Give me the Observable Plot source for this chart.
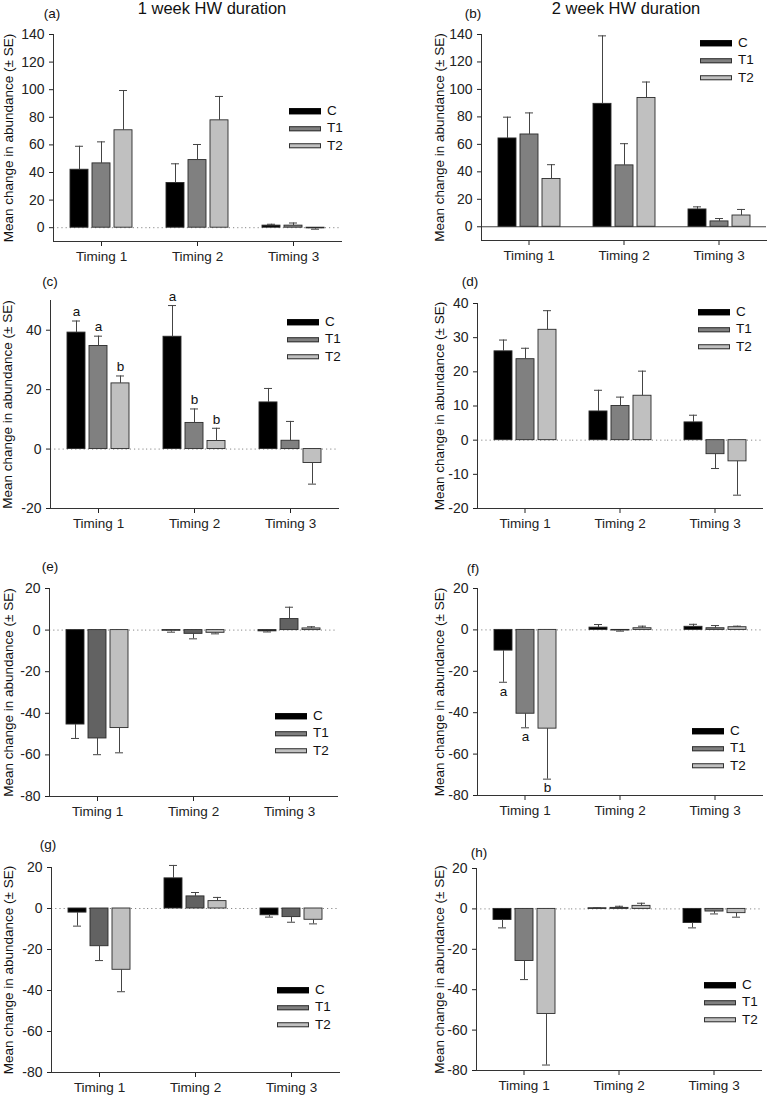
<!DOCTYPE html>
<html><head><meta charset="utf-8">
<script src="https://cdn.jsdelivr.net/npm/d3@7"></script>
<script src="https://cdn.jsdelivr.net/npm/@observablehq/plot@0.6"></script>
<style>
body{margin:0;background:#fff;}
#chart{position:relative;width:767px;height:1097px;font-family:"Liberation Sans",Arial,sans-serif;color:#111;overflow:hidden;background:#fff;}
.abs{position:absolute;white-space:nowrap;line-height:1;}
.ctr{transform:translate(-50%,-50%);}
.row{position:absolute;display:flex;align-items:center;font-size:13.5px;transform:translateY(-50%);line-height:1;}
.sw{width:30px;height:3px;border:1px solid #333;margin-right:6px;}
svg.panel{position:absolute;overflow:visible;}
</style></head>
<body><div id="chart"></div>
<script>
// ---- categories & labels ----
const timings = ["Timing 1", "Timing 2", "Timing 3"];
const treatments = ["C", "T1", "T2"];
const yLabel = "Mean change in abundance (± SE)";
const columnTitles = ["1 week HW duration", "2 week HW duration"];
const panelTags = ["(a)", "(b)", "(c)", "(d)", "(e)", "(f)", "(g)", "(h)"];

// ---- values: rows = C, T1, T2 ; columns = Timing 1..3 ----
const meanA = [[42.0, 32.4, 1.5], [46.6, 49.0, 1.5], [70.6, 77.8, -0.5]];
const seA   = [[17.0, 13.9, 1.0], [15.6, 11.3, 1.9], [28.8, 17.3, 0.6]];

const meanB = [[64.3, 89.5, 12.6], [67.2, 44.7, 3.9], [34.8, 93.8, 8.2]];
const seB   = [[15.5, 49.5, 1.9], [15.7, 15.8, 2.1], [10.4, 11.6, 4.4]];

const meanC = [[39.2, 37.8, 15.7], [34.7, 8.8, 2.8], [22.1, 2.7, -4.7]];
const seC   = [[3.9, 10.5, 4.7], [3.3, 4.7, 6.5], [2.5, 4.3, 7.1]];
const lettersC = [["a", "a", ""], ["a", "b", ""], ["b", "b", ""]];

const meanD = [[26.0, 8.4, 5.2], [23.7, 10.0, -4.1], [32.3, 13.0, -6.2]];
const seD   = [[3.3, 6.2, 2.1], [3.2, 2.6, 4.2], [5.6, 7.2, 9.9]];

const meanE = [[-45.4, -0.3, -0.6], [-52.1, -1.8, 5.3], [-47.1, -1.3, 0.8]];
const seE   = [[6.7, 0.7, 0.3], [7.8, 2.4, 5.7], [11.9, 0.5, 0.8]];

const meanF = [[-10.0, 1.1, 1.5], [-40.5, -0.3, 0.8], [-47.7, 0.8, 1.3]];
const seF   = [[15.3, 1.5, 1.2], [6.8, 0.3, 1.3], [24.4, 1.0, 0.5]];
const lettersF = [["a", "", ""], ["a", "", ""], ["b", "", ""]];

const meanG = [[-2.0, 14.7, -3.3], [-18.4, 5.9, -4.2], [-29.9, 3.6, -5.5]];
const seG   = [[6.6, 6.3, 0.9], [7.0, 1.9, 2.5], [10.7, 1.8, 2.0]];

const meanH = [[-5.5, 0.3, -7.0], [-25.8, 0.5, -1.3], [-52.0, 1.5, -2.1]];
const seH   = [[3.9, 0.3, 2.4], [9.2, 0.8, 1.2], [25.3, 1.3, 2.0]];

const ticksAB = [0, 20, 40, 60, 80, 100, 120, 140];
const ticksC = [-20, 0, 20, 40];
const ticksD = [-20, -10, 0, 10, 20, 30, 40];
const ticksEH = [-80, -60, -40, -20, 0, 20];

// ---- layout ----
const colLeft = [0, 383], colWidth = [383, 384], labelX = [7, 55];
const panels = [
  {mean: meanA, se: seA, col: 0, top: 0,   h: 270, mL: 52, mR: 41, mT: 34, mB: 29, y: [-10, 140], ticks: ticksAB, t1: "#808080", zero: "dot",   tag: [52, 14],  legend: [289, 111]},
  {mean: meanB, se: seB, col: 1, top: 0,   h: 270, mL: 97, mR: 0,  mT: 34, mB: 30, y: [-10, 140], ticks: ticksAB, t1: "#808080", zero: "solid", tag: [473, 14], legend: [700, 43]},
  {mean: meanC, se: seC, letters: lettersC, col: 0, top: 270, h: 270, mL: 50, mR: 45, mT: 30, mB: 32, y: [-20, 50], ticks: ticksC, t1: "#808080", zero: "dot", tag: [50, 282], legend: [287, 322]},
  {mean: meanD, se: seD, col: 1, top: 270, h: 270, mL: 93, mR: 5,  mT: 33, mB: 32, y: [-20, 40], ticks: ticksD, t1: "#808080", zero: "dot", tag: [470, 282], legend: [698, 312]},
  {mean: meanE, se: seE, col: 0, top: 540, h: 280, mL: 48, mR: 45, mT: 48, mB: 24, y: [-80, 20], ticks: ticksEH, t1: "#626262", zero: "dot", tag: [50, 567], legend: [275, 716]},
  {mean: meanF, se: seF, letters: lettersF, col: 1, top: 540, h: 280, mL: 93, mR: 4, mT: 48, mB: 25, y: [-80, 20], ticks: ticksEH, t1: "#808080", zero: "dot", tag: [473, 569], legend: [692, 731]},
  {mean: meanG, se: seG, col: 0, top: 820, h: 277, mL: 50, mR: 44, mT: 47, mB: 25, y: [-80, 20], ticks: ticksEH, t1: "#626262", zero: "dot", tag: [48, 845], legend: [277, 990]},
  {mean: meanH, se: seH, col: 1, top: 820, h: 277, mL: 92, mR: 5,  mT: 48, mB: 27, y: [-80, 20], ticks: ticksEH, t1: "#808080", zero: "dot", tag: [479, 853], legend: [704, 985]}
];
const titlePos = [[212, 8], [626, 8]];
const swatchFill = ["#000000", "#808080", "#c0c0c0"];

const chart = document.getElementById("chart");

function buildData(p) {
  const rows = [];
  treatments.forEach((trt, i) => {
    timings.forEach((timing, j) => {
      const m = p.mean[i][j], s = p.se[i][j];
      const dir = m >= 0 ? 1 : -1;
      rows.push({timing, trt, mean: m, end: m + dir * s, letter: p.letters ? p.letters[i][j] : ""});
    });
  });
  return rows;
}

panels.forEach((p, k) => {
  const data = buildData(p);
  const posLetters = data.filter(d => d.letter && d.mean >= 0);
  const negLetters = data.filter(d => d.letter && d.mean < 0);
  const zeroRule = p.zero === "solid"
    ? Plot.ruleY([0], {stroke: "#444", strokeWidth: 1})
    : Plot.ruleY([0], {stroke: "#888", strokeDasharray: "1.2,3", strokeWidth: 1});
  const svg = Plot.plot({
    width: colWidth[p.col],
    height: p.h,
    marginLeft: p.mL, marginRight: p.mR, marginTop: p.mT, marginBottom: p.mB,
    style: {fontFamily: "'Liberation Sans', Arial, sans-serif", color: "#222", background: "transparent"},
    fx: {domain: timings, padding: 0, label: null},
    x: {domain: treatments, paddingInner: 0.2, paddingOuter: 0.75, axis: null},
    y: {domain: p.y, label: null},
    color: {domain: treatments, range: ["#000000", p.t1, "#c0c0c0"]},
    marks: [
      zeroRule,
      Plot.barY(data, {fx: "timing", x: "trt", y: "mean", fill: "trt", stroke: "#2b2b2b", strokeWidth: 0.9}),
      Plot.ruleX(data, {fx: "timing", x: "trt", y1: "mean", y2: "end", stroke: "#444", strokeWidth: 1}),
      Plot.tickY(data, {fx: "timing", x: "trt", y: "end", stroke: "#444", strokeWidth: 1, insetLeft: 5, insetRight: 5}),
      Plot.text(posLetters, {fx: "timing", x: "trt", y: "end", text: "letter", dy: -9, fontSize: 13.5, fill: "#111"}),
      Plot.text(negLetters, {fx: "timing", x: "trt", y: "end", text: "letter", dy: 9, fontSize: 13.5, fill: "#111"}),
      Plot.axisY({ticks: p.ticks, tickSize: 4, tickPadding: 5, fontSize: 14, label: null, tickFormat: d => String(d)}),
      Plot.axisFx({anchor: "bottom", tickSize: 5, tickPadding: 5, fontSize: 13.5, label: null}),
      Plot.frame({anchor: "bottom", stroke: "#333"}),
      Plot.frame({anchor: "left", stroke: "#333", facetAnchor: "left"}),
      Plot.text([yLabel], {frameAnchor: "left", textAnchor: "middle", lineAnchor: "middle", rotate: -90, dx: labelX[p.col] - p.mL, fontSize: 13.5, fill: "#111", facetAnchor: "left"})
    ]
  });
  svg.classList.add("panel");
  svg.style.left = colLeft[p.col] + "px";
  svg.style.top = p.top + "px";
  chart.appendChild(svg);

  // panel tag
  const tag = document.createElement("div");
  tag.className = "abs ctr";
  tag.style.left = p.tag[0] + "px";
  tag.style.top = p.tag[1] + "px";
  tag.style.fontSize = "13.5px";
  tag.textContent = panelTags[k];
  chart.appendChild(tag);

  // legend
  treatments.forEach((trt, i) => {
    const row = document.createElement("div");
    row.className = "row";
    row.style.left = p.legend[0] + "px";
    row.style.top = (p.legend[1] + i * 17.4) + "px";
    const sw = document.createElement("span");
    sw.className = "sw";
    sw.style.background = swatchFill[i];
    if (i === 0) { sw.style.height = "4px"; sw.style.borderColor = "#000"; }
    const lab = document.createElement("span");
    lab.textContent = trt;
    row.appendChild(sw);
    row.appendChild(lab);
    chart.appendChild(row);
  });
});

columnTitles.forEach((t, c) => {
  const d = document.createElement("div");
  d.className = "abs ctr";
  d.style.left = titlePos[c][0] + "px";
  d.style.top = titlePos[c][1] + "px";
  d.style.fontSize = "16.5px";
  d.textContent = t;
  chart.appendChild(d);
});
</script>
</body></html>
